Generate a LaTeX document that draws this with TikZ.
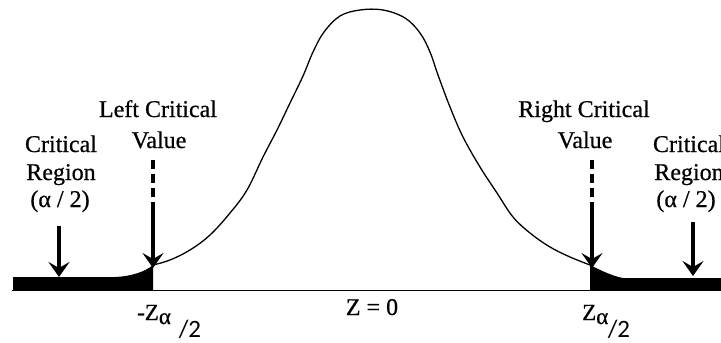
\documentclass[tikz,border=0pt]{standalone}
\usepackage{fontspec}
\setmainfont{Liberation Serif}
\newfontfamily\lblfont{Liberation Serif}[FakeBold=0.6]
\newfontfamily\calfont{Carlito}
\usetikzlibrary{arrows.meta}
\begin{document}
\begin{tikzpicture}[x=1pt,y=-1pt,
  lbl/.style={inner sep=0pt, font=\lblfont\fontsize{24}{28}\selectfont, anchor=base},
  zlbl/.style={inner sep=0pt, font=\lblfont\fontsize{23}{26}\selectfont, anchor=base west},
  half/.style={inner sep=0pt, font=\calfont\fontsize{25}{30}\selectfont, anchor=base},
  arr/.style={line width=3.4pt, -{Stealth[length=15pt,width=21pt,inset=6pt]}},
  dsh/.style={line width=3.4pt, dash pattern=on 9pt off 5pt},
  bell/.style={line width=1.3pt, line join=round},
  axisline/.style={line width=1.4pt},
]
\useasboundingbox (0,0) rectangle (721,343);

% shaded tails
\fill (13,277) -- (115,277) .. controls (130,276.5) and (145,272) .. (153,265) -- (153,290) -- (13,290) -- cycle;
\fill (590,265) .. controls (600,270) and (612,276) .. (623,278) -- (721,278) -- (721,290) -- (590,290) -- cycle;

% axis
\draw[axisline] (12,290.5) -- (721,290.5);

% bell curve
\draw[bell] plot[smooth, tension=0.6] coordinates {
 (153,265) (170,260) (190,250) (210,235) (230,213) (247,190) (263,157) (277,130)
 (290,103) (303,76) (313,52) (324,32) (340,16) (360,10) (383,10) (405,18)
 (420,33) (430,52) (438,75) (450,107) (463,137) (480,167) (497,193) (513,217)
 (530,233) (550,247) (570,257) (590,265)};

% labels
\node[lbl] (lcv1) at (158,117) {Left Critical};
\node[lbl] (lcv2) at (159,148) {Value};
\node[lbl] (lcr1) at (61,152) {Critical};
\node[lbl] (lcr2) at (61,180) {Region};
\node[lbl] (lcr3) at (60,207) {(α / 2)};

\node[lbl] (rcv1) at (584,117) {Right Critical};
\node[lbl] (rcv2) at (585,148) {Value};
\node[lbl] (rcr1) at (689,152) {Critical};
\node[lbl] (rcr2) at (689,180) {Region};
\node[lbl] (rcr3) at (686,207) {(α / 2)};

\node[lbl] (z0) at (372,315) {Z = 0};
\node[zlbl] (zl) at (137,320) {-Z\raisebox{-4pt}{α}};
\node[half] (zlh) at (190,337) {/2};
\node[zlbl] (zr) at (582,320) {Z\raisebox{-4pt}{α}};
\node[half] (zrh) at (619,337) {/2};

% arrows
\coordinate (lcvtop) at (153,160);
\coordinate (lcvmid) at (153,203);
\coordinate (lcvtip) at (153,268);
\draw[dsh] (lcvtop) -- (lcvmid);
\draw[arr] (lcvmid) -- (lcvtip);

\coordinate (rcvtop) at (592,160);
\coordinate (rcvmid) at (592,203);
\coordinate (rcvtip) at (592,268);
\draw[dsh] (rcvtop) -- (rcvmid);
\draw[arr] (rcvmid) -- (rcvtip);

\coordinate (lcrtop) at (59,226);
\coordinate (lcrtip) at (59,277);
\draw[arr] (lcrtop) -- (lcrtip);

\coordinate (rcrtop) at (693,222);
\coordinate (rcrtip) at (693,276);
\draw[arr] (rcrtop) -- (rcrtip);
\end{tikzpicture}
\end{document}
